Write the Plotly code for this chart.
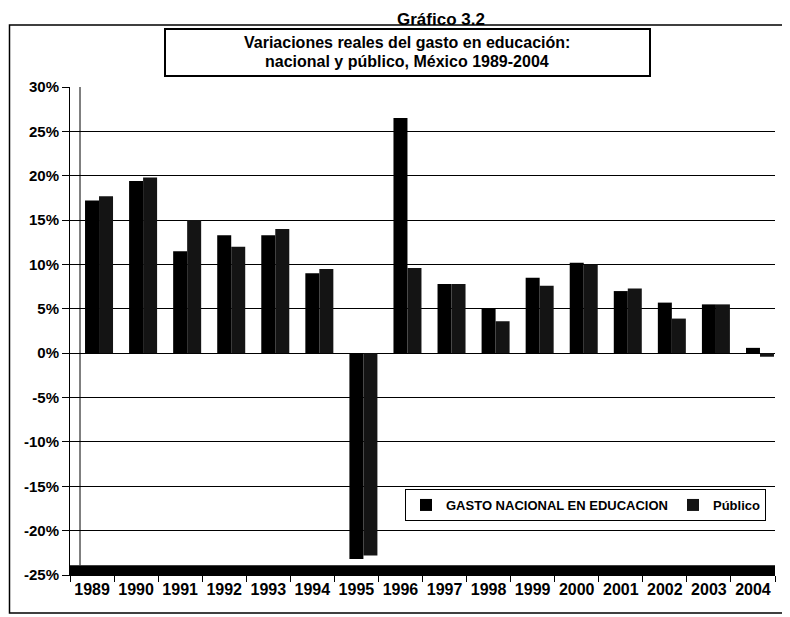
import plotly.graph_objects as go

years = ["1989", "1990", "1991", "1992", "1993", "1994", "1995", "1996",
         "1997", "1998", "1999", "2000", "2001", "2002", "2003", "2004"]
nacional = [17.2, 19.4, 11.5, 13.3, 13.3, 9.0, -23.2, 26.5,
            7.8, 5.0, 8.5, 10.2, 7.0, 5.7, 5.5, 0.6]
publico = [17.7, 19.8, 15.0, 12.0, 14.0, 9.5, -22.8, 9.6,
           7.8, 3.6, 7.6, 10.0, 7.3, 3.9, 5.5, -0.4]
y_tick_vals = [30, 25, 20, 15, 10, 5, 0, -5, -10, -15, -20, -25]
y_tick_text = ["30%", "25%", "20%", "15%", "10%", "5%", "0%",
               "-5%", "-10%", "-15%", "-20%", "-25%"]

# The page body has an 8px margin: figure is sized so that it ends at the window edge.
OFF = 8
W, H = 790 - OFF, 617 - OFF
PLOT_L, PLOT_R, PLOT_T, PLOT_B = 70, 775, 87, 575   # in page pixels
L, R, T, B = PLOT_L - OFF, 790 - PLOT_R, PLOT_T - OFF, 617 - PLOT_B
pw, ph = PLOT_R - PLOT_L, PLOT_B - PLOT_T


def px(x):
    return (x - PLOT_L) / pw


def py(y):
    return (PLOT_B - y) / ph


FONT = "Liberation Sans, Arial, sans-serif"
CAT = pw / len(years)

fig = go.Figure()
fig.add_trace(go.Bar(x=years, y=nacional, name="GASTO NACIONAL EN EDUCACION",
                     offset=-7 / CAT, width=14 / CAT,
                     marker=dict(color="#000000", line=dict(width=0))))
fig.add_trace(go.Bar(x=years, y=publico, name="Público",
                     offset=7 / CAT, width=14 / CAT,
                     marker=dict(color="#141414", line=dict(width=0))))

shapes = [
    # outer frame
    dict(type="rect", xref="paper", yref="paper", x0=px(9.5), x1=px(787),
         y0=py(613), y1=py(25), line=dict(color="black", width=1.5),
         fillcolor="rgba(0,0,0,0)", layer="below"),
    # title box
    dict(type="rect", xref="paper", yref="paper", x0=px(165), x1=px(650),
         y0=py(76), y1=py(29), line=dict(color="black", width=2),
         fillcolor="white"),
    # floor band (3D floor)
    dict(type="rect", xref="paper", yref="y", x0=0, x1=1.0,
         y0=-25, y1=-23.9, line=dict(width=0), fillcolor="black",
         layer="above"),
    # back wall left edge
    dict(type="line", xref="paper", yref="y", x0=px(80), x1=px(80),
         y0=-23.9, y1=30.3, line=dict(color="black", width=1)),
]

annotations = [
    dict(text="<b>Gráfico 3.2</b>", xref="paper", yref="paper",
         x=px(441), y=py(8), xanchor="center", yanchor="top",
         showarrow=False, font=dict(family=FONT, size=17, color="black")),
    dict(text="<b>Variaciones reales del gasto en educación:</b>",
         xref="paper", yref="paper", x=px(407), y=py(42),
         xanchor="center", yanchor="middle", showarrow=False,
         font=dict(family=FONT, size=16, color="black")),
    dict(text="<b>nacional y público, México 1989-2004</b>",
         xref="paper", yref="paper", x=px(407), y=py(61),
         xanchor="center", yanchor="middle", showarrow=False,
         font=dict(family=FONT, size=16, color="black")),
]

fig.update_layout(
    width=W, height=H,
    margin=dict(l=L, r=R, t=T, b=B),
    paper_bgcolor="white", plot_bgcolor="white",
    barmode="overlay",
    font=dict(family=FONT, color="black"),
    shapes=shapes,
    annotations=annotations,
    showlegend=True,
    legend=dict(orientation="h", x=px(405), y=py(489), xanchor="left",
                yanchor="top", bgcolor="white", bordercolor="black",
                borderwidth=1, itemwidth=30,
                font=dict(family=FONT, size=13, color="black", weight="bold"),
                itemclick=False),
    xaxis=dict(type="category", showgrid=False, showline=True,
               linecolor="black", linewidth=1, ticks="outside",
               tickson="boundaries", ticklen=6, tickcolor="black",
               tickangle=0,
               tickfont=dict(family=FONT, size=16, color="black", weight="bold"),
               automargin=False),
    yaxis=dict(range=[-25, 30], tickvals=y_tick_vals, ticktext=y_tick_text,
               showgrid=True, gridcolor="black", gridwidth=1,
               zeroline=True, zerolinecolor="black", zerolinewidth=1,
               showline=True, linecolor="black", linewidth=1,
               ticks="outside", ticklen=7, tickcolor="black",
               tickfont=dict(family=FONT, size=15, color="black", weight="bold"),
               automargin=False),
)

fig.write_html("out.html")
